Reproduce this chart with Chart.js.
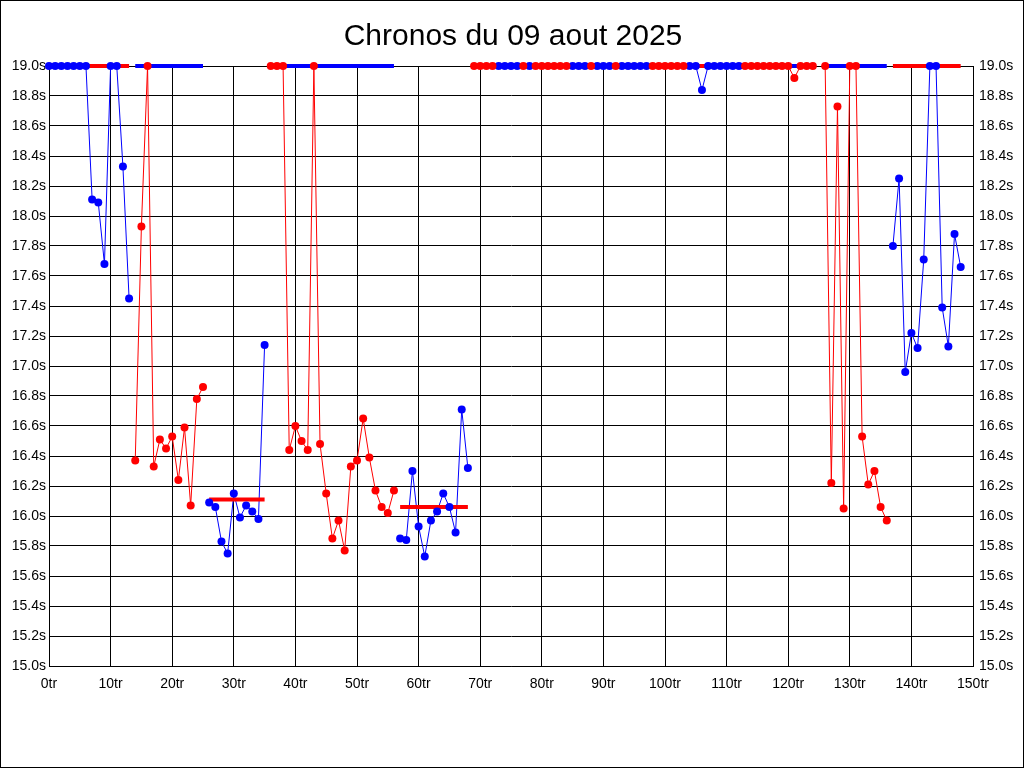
<!DOCTYPE html>
<html lang="fr">
<head>
<meta charset="utf-8">
<title>Chronos du 09 aout 2025</title>
<script src="https://cdn.jsdelivr.net/npm/chart.js@4.4.1/dist/chart.umd.min.js"></script>
<style>
  html, body { margin: 0; padding: 0; background: #fff; }
  #cadre { width: 1022px; height: 766px; border: 1px solid #000; background: #fff; }
  canvas { display: block; }
</style>
</head>
<body>
<div id="cadre"><canvas id="graficoChronos" width="1022" height="766"></canvas></div>
<script>
// Titre et axes
const titre = 'Chronos du 09 aout 2025';
const tourMin = 0, tourMax = 150, pasTour = 10;
const tempsMin = 15.0, tempsMax = 19.0, pasTemps = 0.2;

// Temps au tour (s) par pilote, index = numero du tour (0..148), null = autre pilote
// 19.0 = hors echelle (dessine en haut)
const tempsBleu = [
  19.0, 19.0, 19.0, 19.0, 19.0, 19.0, 19.0, 18.11, 18.09, 17.68,   // 0-9
  19.0, 19.0, 18.33, 17.45, null, null, null, null, null, null,    // 10-19
  null, null, null, null, null, null, 16.09, 16.06, 15.83, 15.75,  // 20-29
  16.15, 15.99, 16.07, 16.03, 15.98, 17.14, null, null, null, null, // 30-39
  null, null, null, null, null, null, null, null, null, null,      // 40-49
  null, null, null, null, null, null, null, 15.85, 15.84, 16.30,   // 50-59
  15.93, 15.73, 15.97, 16.03, 16.15, 16.06, 15.89, 16.71, 16.32, null, // 60-69
  null, null, null, 19.0, 19.0, 19.0, 19.0, null, 19.0, null,      // 70-79
  null, null, null, null, null, 19.0, 19.0, 19.0, null, 19.0,      // 80-89
  19.0, 19.0, null, 19.0, 19.0, 19.0, 19.0, 19.0, null, null,      // 90-99
  null, null, null, null, 19.0, 19.0, 18.84, 19.0, 19.0, 19.0,     // 100-109
  19.0, 19.0, 19.0, null, null, null, null, null, null, null,      // 110-119
  null, null, null, null, null, null, null, null, null, null,      // 120-129
  null, null, null, null, null, null, null, 17.80, 18.25, 16.96,   // 130-139
  17.22, 17.12, 17.71, 19.0, 19.0, 17.39, 17.13, 17.88, 17.66      // 140-148
];

const tempsRouge = [
  null, null, null, null, null, null, null, null, null, null,      // 0-9
  null, null, null, null, 16.37, 17.93, 19.0, 16.33, 16.51, 16.45, // 10-19
  16.53, 16.24, 16.59, 16.07, 16.78, 16.86, null, null, null, null, // 20-29
  null, null, null, null, null, null, 19.0, 19.0, 19.0, 16.44,     // 30-39
  16.60, 16.50, 16.44, 19.0, 16.48, 16.15, 15.85, 15.97, 15.77, 16.33, // 40-49
  16.37, 16.65, 16.39, 16.17, 16.06, 16.02, 16.17, null, null, null, // 50-59
  null, null, null, null, null, null, null, null, null, 19.0,      // 60-69
  19.0, 19.0, 19.0, null, null, null, null, 19.0, null, 19.0,      // 70-79
  19.0, 19.0, 19.0, 19.0, 19.0, null, null, null, 19.0, null,      // 80-89
  null, null, 19.0, null, null, null, null, null, 19.0, 19.0,      // 90-99
  19.0, 19.0, 19.0, 19.0, null, null, null, null, null, null,      // 100-109
  null, null, null, 19.0, 19.0, 19.0, 19.0, 19.0, 19.0, 19.0,      // 110-119
  19.0, 18.92, 19.0, 19.0, 19.0, null, 19.0, 16.22, 18.73, 16.05,  // 120-129
  19.0, 19.0, 16.53, 16.21, 16.30, 16.06, 15.97, null, null, null, // 130-139
  null, null, null, null, null, null, null, null, null             // 140-148
];

// Moyennes par relais (trait epais, couleur de l'autre pilote)
const moyDebut   = [0, 14, 26, 36, 57, 69, 73, 79, 85, 89, 93, 98, 104, 113, 126, 137];
const moyFin     = [13, 25, 35, 56, 68, 72, 76, 84, 87, 91, 97, 103, 112, 124, 136, 148];
const moyTemps   = [19.0, 19.0, 16.11, 19.0, 16.06, 19.0, 19.0, 19.0, 19.0, 19.0, 19.0, 19.0, 19.0, 19.0, 19.0, 19.0];
const moyCouleur = ['rouge', 'bleu', 'rouge', 'bleu', 'rouge', 'bleu', 'rouge', 'bleu', 'rouge', 'rouge', 'rouge', 'bleu', 'rouge', 'bleu', 'bleu', 'rouge'];

const couleurs = { bleu: '#0000ff', rouge: '#ff0000' };

function enPoints(temps) {
  return temps.map((t, tour) => ({ x: tour, y: t }));
}

const datasets = [];

// points au-dessus de tout
datasets.push({
  data: enPoints(tempsRouge), showLine: false, order: 1, clip: false,
  pointRadius: 4, pointBorderWidth: 0, pointBackgroundColor: couleurs.rouge
});
datasets.push({
  data: enPoints(tempsBleu), showLine: false, order: 1, clip: false,
  pointRadius: 4, pointBorderWidth: 0, pointBackgroundColor: couleurs.bleu
});

// moyennes
for (let i = 0; i < moyDebut.length; i++) {
  datasets.push({
    data: [{ x: moyDebut[i], y: moyTemps[i] }, { x: moyFin[i], y: moyTemps[i] }],
    borderColor: couleurs[moyCouleur[i]], borderWidth: 4, pointRadius: 0, order: 2, clip: false
  });
}

// lignes fines
datasets.push({
  data: enPoints(tempsRouge), borderColor: couleurs.rouge, borderWidth: 1,
  pointRadius: 0, order: 3, spanGaps: false
});
datasets.push({
  data: enPoints(tempsBleu), borderColor: couleurs.bleu, borderWidth: 1,
  pointRadius: 0, order: 3, spanGaps: false
});

const titrePlugin = {
  id: 'titre',
  afterDraw(chart) {
    const ctx = chart.ctx;
    ctx.save();
    ctx.font = '30px "Liberation Sans", Arial, sans-serif';
    ctx.fillStyle = '#000';
    ctx.textAlign = 'center';
    ctx.textBaseline = 'alphabetic';
    ctx.fillText(titre, 512, 44);
    ctx.restore();
  }
};

const police = { family: '"Liberation Sans", Arial, sans-serif', size: 14 };

const axeTemps = (position, avecGrille, padding, largeur) => ({
  type: 'linear',
  position: position,
  min: tempsMin,
  max: tempsMax,
  grid: { display: avecGrille, color: '#000', lineWidth: 1, drawTicks: false },
  border: { display: true, color: '#000', width: 1 },
  ticks: {
    stepSize: pasTemps,
    padding: padding,
    color: '#000',
    font: police,
    callback: v => v.toFixed(1) + 's'
  },
  afterFit: scale => { scale.width = largeur; }
});

new Chart(document.getElementById('graficoChronos'), {
  type: 'line',
  data: { datasets: datasets },
  options: {
    responsive: false,
    animation: false,
    layout: { padding: { top: 65, left: 0, right: 0, bottom: 0 } },
    plugins: {
      legend: { display: false },
      tooltip: { enabled: false },
      title: { display: false }
    },
    elements: { line: { tension: 0 } },
    scales: {
      x: {
        type: 'linear',
        min: tourMin,
        max: tourMax,
        grid: { color: '#000', lineWidth: 1, drawTicks: false },
        border: { display: true, color: '#000', width: 1 },
        ticks: {
          stepSize: pasTour,
          padding: 10,
          color: '#000',
          font: police,
          maxRotation: 0,
          autoSkip: false,
          callback: v => v + 'tr'
        },
        afterFit: scale => { scale.height = 101; }
      },
      y: axeTemps('left', true, 3, 48),
      y2: axeTemps('right', false, 6, 50)
    }
  },
  plugins: [titrePlugin]
});
</script>
</body>
</html>
